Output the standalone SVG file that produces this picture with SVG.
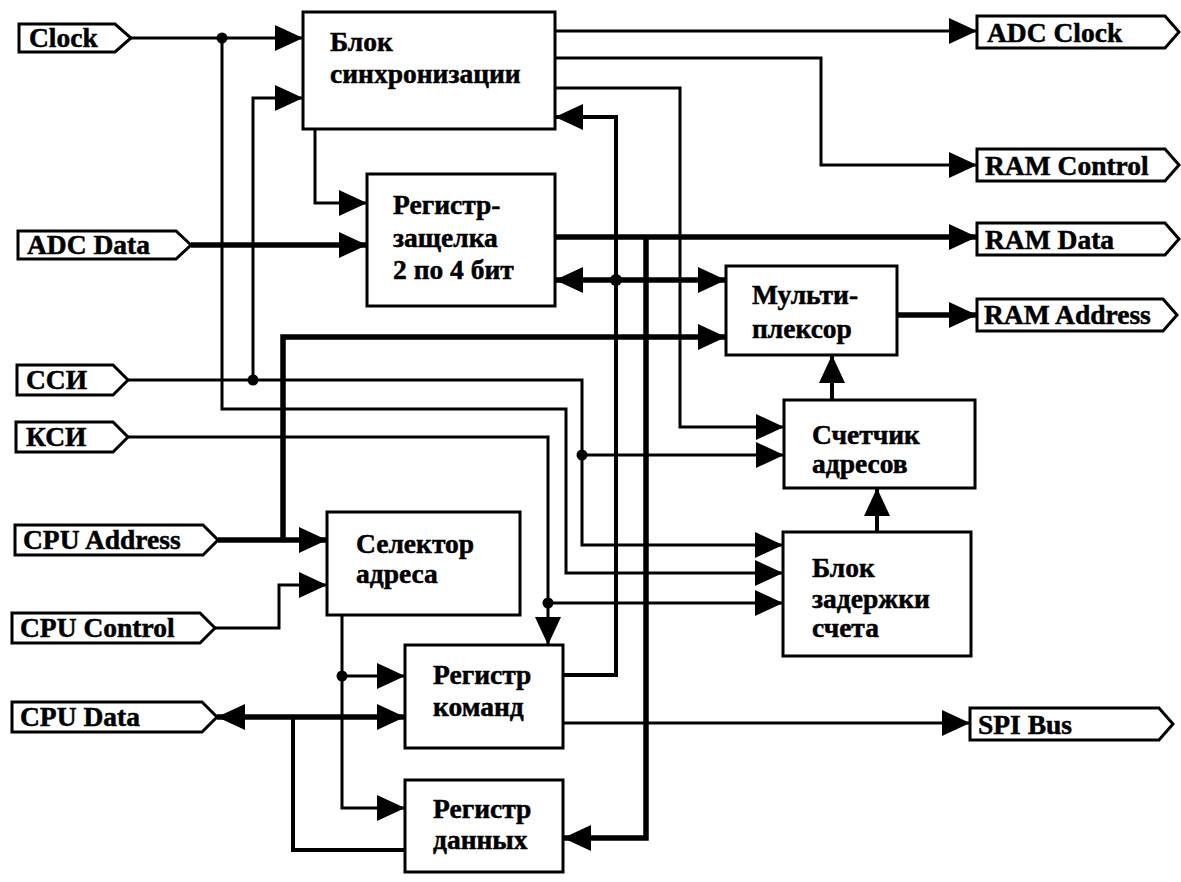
<svg xmlns="http://www.w3.org/2000/svg" width="1181" height="882" viewBox="0 0 1181 882">
<style>
.box{fill:#fff;stroke:#000;stroke-width:3}
.tag{fill:#fff;stroke:#000;stroke-width:3;stroke-linejoin:miter}
.t{font-family:"Liberation Serif","Times New Roman",serif;font-weight:bold;font-size:27.5px;fill:#000;stroke:#000;stroke-width:0.5}
.w{fill:none;stroke:#000;stroke-width:3;stroke-linejoin:miter}
.m{stroke-width:4}
.b{stroke-width:5.5}
.a{marker-end:url(#arr)}
.s{marker-start:url(#arr)}
.dot{fill:#000}
</style>
<defs>
<marker id="arr" markerUnits="userSpaceOnUse" markerWidth="28" markerHeight="26" refX="28" refY="13" orient="auto-start-reverse" overflow="visible">
<path d="M0,0 L28,13 L0,26 Z" fill="#000"/>
</marker>
</defs>
<rect width="1181" height="882" fill="#fff"/>
<g id="connectors">
<path class="w a" d="M131,38 H303"/>
<path class="w a" d="M222,38 V409 H566 V573 H783"/>
<path class="w b a" d="M191,245 H367"/>
<path class="w a" d="M128,380 H582 V545 H783"/>
<path class="w a" d="M253,380 V98 H303"/>
<path class="w a" d="M582,455 H784"/>
<path class="w a" d="M128,437 H548 V645"/>
<path class="w a" d="M548,603 H783"/>
<path class="w b a" d="M218,540 H327"/>
<path class="w b a" d="M283,540 V337 H726"/>
<path class="w a" d="M215,628 H279 V585 H327"/>
<path class="w b a s" d="M217,717 H405"/>
<path class="w m" d="M293,717 V850 H405"/>
<path class="w a" d="M315,129 V203 H367"/>
<path class="w a" d="M555,31 H977"/>
<path class="w a" d="M555,58 H821 V165 H977"/>
<path class="w a" d="M555,88 H680 V427 H784"/>
<path class="w m a" d="M563,675 H616 V117 H555"/>
<path class="w b a s" d="M555,280 H726"/>
<path class="w b a" d="M555,237 H977"/>
<path class="w b a" d="M646,237 V838 H563"/>
<path class="w b a" d="M897,315 H977"/>
<path class="w a" d="M563,723 H970"/>
<path class="w m a" d="M832,400 V355"/>
<path class="w m a" d="M877,532 V488"/>
<path class="w a" d="M342,615 V808 H405"/>
<path class="w a" d="M342,676 H405"/>
<circle class="dot" cx="222" cy="38" r="5.5"/>
<circle class="dot" cx="253" cy="380" r="5.5"/>
<circle class="dot" cx="582" cy="455" r="5.5"/>
<circle class="dot" cx="548" cy="603" r="5.5"/>
<circle class="dot" cx="616" cy="280" r="6"/>
<circle class="dot" cx="342" cy="676" r="5.5"/>
</g>
<g id="sync">
<rect class="box" x="303" y="12" width="252" height="117"/>
<text class="t" x="330" y="51">Блок</text>
<text class="t" x="330" y="83">синхронизации</text>
</g>
<g id="latch">
<rect class="box" x="367" y="174" width="188" height="132"/>
<text class="t" x="393" y="214">Регистр-</text>
<text class="t" x="393" y="247">защелка</text>
<text class="t" x="393" y="279">2 по 4 бит</text>
</g>
<g id="mux">
<rect class="box" x="726" y="266" width="171" height="89"/>
<text class="t" x="752" y="304">Мульти-</text>
<text class="t" x="752" y="338">плексор</text>
</g>
<g id="counter">
<rect class="box" x="784" y="400" width="191" height="88"/>
<text class="t" x="812" y="444">Счетчик</text>
<text class="t" x="812" y="473">адресов</text>
</g>
<g id="delay">
<rect class="box" x="783" y="532" width="188" height="124"/>
<text class="t" x="812" y="577">Блок</text>
<text class="t" x="812" y="608">задержки</text>
<text class="t" x="812" y="637">счета</text>
</g>
<g id="selector">
<rect class="box" x="327" y="512" width="193" height="103"/>
<text class="t" x="356" y="553">Селектор</text>
<text class="t" x="356" y="583">адреса</text>
</g>
<g id="cmdreg">
<rect class="box" x="405" y="645" width="158" height="103"/>
<text class="t" x="433" y="684">Регистр</text>
<text class="t" x="433" y="716">команд</text>
</g>
<g id="datareg">
<rect class="box" x="405" y="780" width="158" height="92"/>
<text class="t" x="433" y="818">Регистр</text>
<text class="t" x="433" y="849">данных</text>
</g>
<g id="in-clock">
<path class="tag" d="M19,24 H115 L131,38 L115,52 H19 Z"/>
<text class="t" x="29" y="47">Clock</text>
</g>
<g id="in-adcdata">
<path class="tag" d="M18,231 H176 L191,245 L176,259 H18 Z"/>
<text class="t" x="27" y="254">ADC Data</text>
</g>
<g id="in-ssi">
<path class="tag" d="M17,365 H113 L128,380 L113,395 H17 Z"/>
<text class="t" x="26" y="389">ССИ</text>
</g>
<g id="in-ksi">
<path class="tag" d="M16,422 H113 L128,437 L113,452 H16 Z"/>
<text class="t" x="26" y="446">КСИ</text>
</g>
<g id="in-cpuaddr">
<path class="tag" d="M15,525 H203 L218,540 L203,555 H15 Z"/>
<text class="t" x="23" y="549">CPU Address</text>
</g>
<g id="in-cpuctrl">
<path class="tag" d="M12,613 H200 L215,628 L200,643 H12 Z"/>
<text class="t" x="20" y="637">CPU Control</text>
</g>
<g id="in-cpudata">
<path class="tag" d="M12,702 H202 L217,717 L202,732 H12 Z"/>
<text class="t" x="20" y="726">CPU Data</text>
</g>
<g id="out-adcclock">
<path class="tag" d="M977,16 H1165 L1179,32 L1165,48 H977 Z"/>
<text class="t" x="987" y="42">ADC Clock</text>
</g>
<g id="out-ramctrl">
<path class="tag" d="M977,149 H1165 L1179,165 L1165,181 H977 Z"/>
<text class="t" x="985" y="175">RAM Control</text>
</g>
<g id="out-ramdata">
<path class="tag" d="M977,223 H1165 L1179,239 L1165,255 H977 Z"/>
<text class="t" x="985" y="249">RAM Data</text>
</g>
<g id="out-ramaddr">
<path class="tag" d="M977,299 H1163 L1177,315 L1163,331 H977 Z"/>
<text class="t" x="984" y="324">RAM Address</text>
</g>
<g id="out-spi">
<path class="tag" d="M970,708 H1159 L1173,724 L1159,740 H970 Z"/>
<text class="t" x="978" y="734">SPI Bus</text>
</g>
</svg>
